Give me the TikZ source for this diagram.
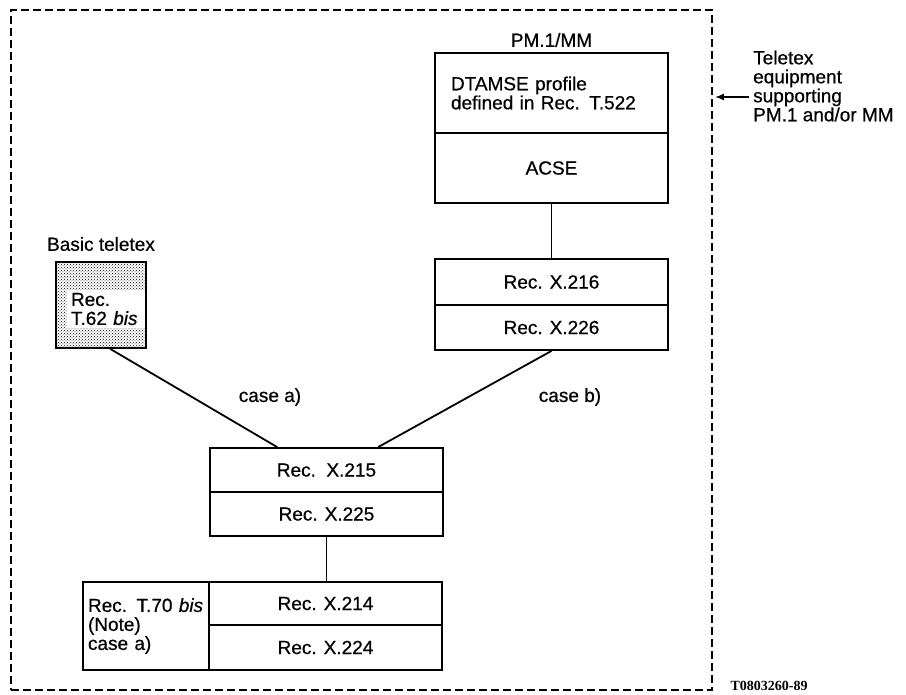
\documentclass[tikz,border=0pt]{standalone}
\usepackage{fontspec}
\setmainfont{Liberation Sans}[FakeBold=0.6]
\newfontfamily\codefont{Liberation Serif}
\usetikzlibrary{patterns,calc,arrows.meta}

\begin{document}
\begin{tikzpicture}[x = 1pt, y = -1pt, font = \fontsize{19}{19}\selectfont,
		recbox/.style = {draw, line width = 1.8pt, minimum width = 233pt, inner sep = 0pt},
		link/.style = {line width = 1.8pt},
		lbl/.style = {inner sep = 1pt}]
	\useasboundingbox (0, 0) rectangle (906, 695);
	\node[draw, dash pattern = on 8pt off 4pt, line width = 1.8pt, minimum width = 701pt, minimum height = 680pt] (frame) at (361.5, 350) {};
	% PM.1/MM stack
	\node[lbl] (pm) at (551.5, 40) {PM.1/MM};
	\node[recbox, minimum height = 80pt, align = left, text width = 201pt] (dtamse) at (551.5, 93) {DTAMSE profile\\defined in Rec. T.522};
	\node[recbox, minimum height = 70pt] (acse) at (551.5, 168) {ACSE};
	\node[recbox, minimum height = 46pt] (x216) at (551.5, 282) {Rec. X.216};
	\node[recbox, minimum height = 45pt] (x226) at (551.5, 327.5) {Rec. X.226};
	\node[lbl, align = left, anchor = west] (teletex) at (752, 86) {Teletex\\equipment\\supporting\\PM.1 and/or MM};
	\coordinate (tail) at (749, 97);
	\draw[link, -{Latex[length = 9pt, width = 7pt]}, shorten > = 2pt] (tail) -- (tail -| frame.east);
	% basic teletex
	\node[lbl] (basiclbl) at (101, 244) {Basic teletex};
	\node[draw, line width = 1.8pt, pattern = crosshatch dots, minimum width = 90pt, minimum height = 86pt] (basic) at (101, 305) {};
	\node[fill = white, inner xsep = 4pt, inner ysep = 3pt, align = left, text width = 70pt] (t62) at (106, 309) {Rec.\\T.62 \textit{bis}};
	\node[lbl] (casea) at (270, 397) {case a)};
	\node[lbl] (caseb) at (570, 397) {case b)};
	% lower stacks
	\node[recbox, minimum height = 44pt] (x215) at (326.5, 470) {Rec.\ \ X.215};
	\node[recbox, minimum height = 44pt] (x225) at (326.5, 514) {Rec. X.225};
	\node[recbox, minimum height = 43pt] (x214) at (325.5, 603.5) {Rec. X.214};
	\node[recbox, minimum height = 45pt] (x224) at (325.5, 647.5) {Rec. X.224};
	\node[recbox, minimum width = 126pt, minimum height = 88pt, align = left, text width = 116pt] (t70) at (146, 626) {Rec. T.70 \textit{bis}\\(Note)\\case a)};
	\draw[link] (acse) -- (x216);
	\draw[link] ($(basic.south west)!0.6!(basic.south east)$) -- ($(x215.north west)!0.29!(x215.north east)$);
	\draw[link] (x226.south) -- ($(x215.north west)!0.72!(x215.north east)$);
	\draw[link] (x225.south) -- (x225.south |- x214.north);
	\node[font = \codefont\bfseries\fontsize{14}{14}\selectfont] (code) at (769, 686) {T0803260-89};
\end{tikzpicture}
\end{document}
